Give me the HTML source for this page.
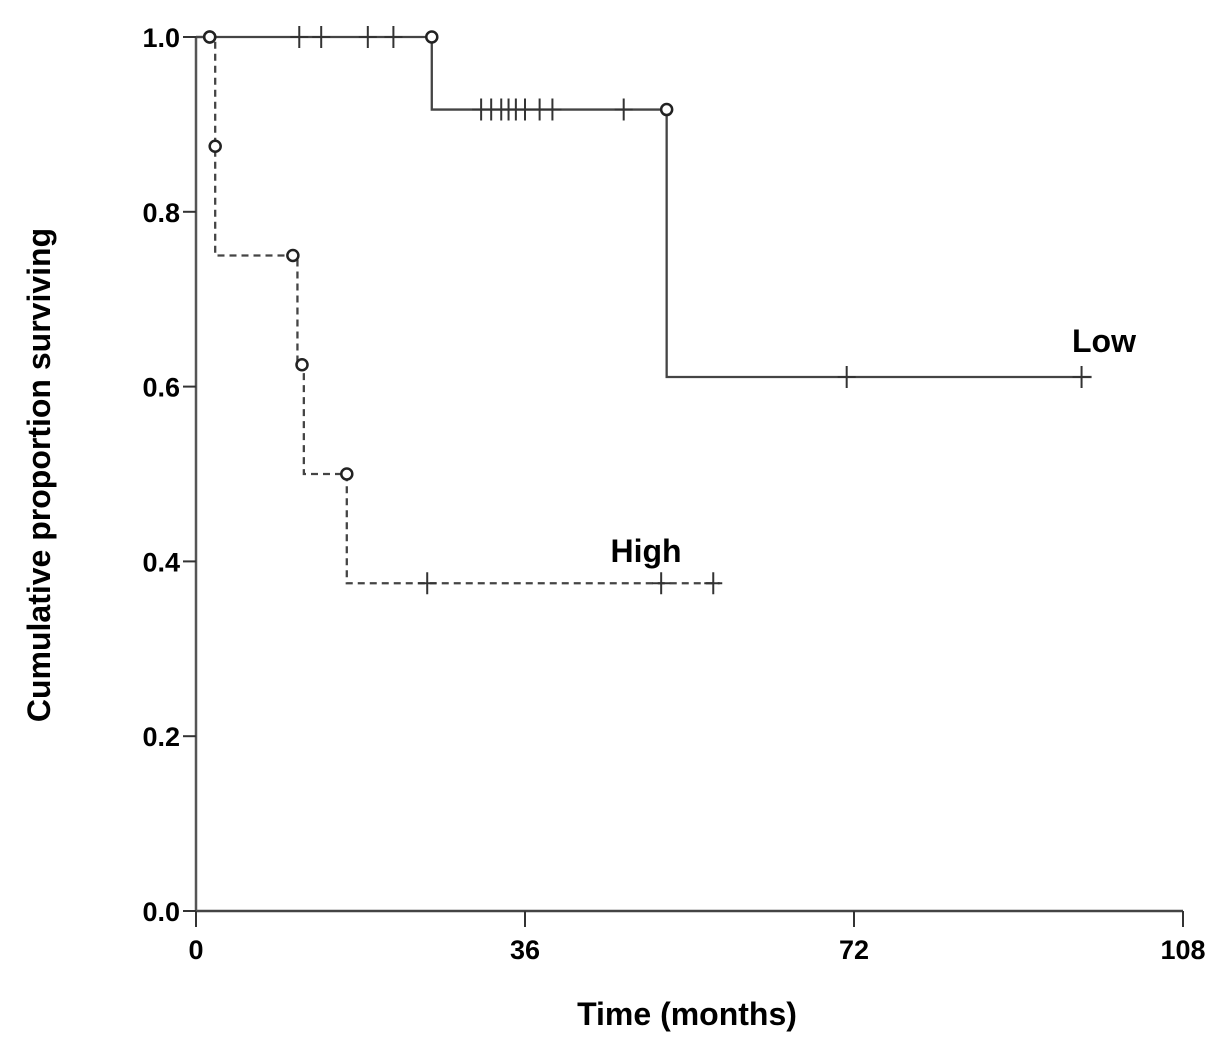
<!DOCTYPE html>
<html><head><meta charset="utf-8"><style>
html,body{margin:0;padding:0;background:#fff;}
svg{display:block;font-family:"Liberation Sans",Arial,sans-serif;}
</style></head><body>
<svg id="chart" width="1228" height="1055" viewBox="0 0 1228 1055">
<g id="axes"></g>
<g id="series"></g>
<text x="0" y="0" transform="translate(50,475) rotate(-90)" text-anchor="middle" font-size="32" font-weight="bold">Cumulative proportion surviving</text>
<text x="687" y="1025" text-anchor="middle" font-size="32" font-weight="bold">Time (months)</text>
<text x="1104" y="352" text-anchor="middle" font-size="32" font-weight="bold">Low</text>
<text x="646" y="562" text-anchor="middle" font-size="32" font-weight="bold">High</text>
</svg>
<script>
const xTicks=[0,36,72,108];
const yTicks=[0,0.2,0.4,0.6,0.8,1.0];
const lowTimes=[0,25.8,51.5,98];
const lowSurv=[1,0.917,0.611,0.611];
const lowEventTimes=[1.5,25.8,51.5];
const lowEventSurv=[1,1,0.917];
const lowCensorTimes=[11.3,13.7,18.8,21.6,31.2,32.3,33.4,34.2,35,36,37.6,39,46.8,71.2,96.9];
const highTimes=[0,2.1,11.1,11.8,16.5,57.3];
const highSurv=[1,0.75,0.625,0.5,0.375,0.375];
const highEventTimes=[1.5,2.1,10.6,11.6,16.5];
const highEventSurv=[1,0.875,0.75,0.625,0.5];
const highCensorTimes=[25.3,50.9,56.6];

const NS="http://www.w3.org/2000/svg";
const X=t=>196+t*(1183-196)/108;
const Y=v=>911-v*874;
function mk(tag,attrs,parent){const e=document.createElementNS(NS,tag);for(const k in attrs)e.setAttribute(k,attrs[k]);parent.appendChild(e);return e;}
const ax=document.getElementById('axes'), se=document.getElementById('series');
let l=mk('line',{x1:X(0),y1:Y(0),x2:X(108),y2:Y(0),stroke:'#444','stroke-width':2.5},ax);


l=mk('line',{x1:X(0),y1:Y(1),x2:X(0),y2:Y(0),stroke:'#555','stroke-width':2.5},ax);


xTicks.forEach(t=>{
 const tk=mk('line',{x1:X(t),y1:Y(0),x2:X(t),y2:Y(0)+16,stroke:'#333','stroke-width':2},ax);
 
 
 const tx=mk('text',{x:X(t),y:Y(0)+48,'text-anchor':'middle','font-size':27,'font-weight':'bold'},ax);tx.textContent=t;
 
 
});
yTicks.forEach(v=>{
 const tk=mk('line',{x1:X(0)-13,y1:Y(v),x2:X(0),y2:Y(v),stroke:'#333','stroke-width':2},ax);
 
 
 const tx=mk('text',{x:X(0)-16,y:Y(v)+10,'text-anchor':'end','font-size':27,'font-weight':'bold'},ax);tx.textContent=v.toFixed(1);
 
 
});
function stepPath(ts,ss){let d=`M${X(ts[0])},${Y(ss[0])}`;for(let i=1;i<ts.length;i++){d+=` H${X(ts[i])} V${Y(ss[i])}`;}return d;}
function survAt(ts,ss,t){let s=ss[0];for(let i=0;i<ts.length;i++){if(ts[i]<=t)s=ss[i];}return s;}
function drawSeries(name,ts,ss,et,es,ct,dash){
 const p=mk('path',{d:stepPath(ts,ss),fill:'none',stroke:'#444','stroke-width':2.3,'stroke-dasharray':dash||'none'},se);
 
 
 ct.forEach(t=>{const y=Y(survAt(ts,ss,t));
  const c=mk('path',{d:`M${X(t)-9},${y} H${X(t)+9} M${X(t)},${y-11} V${y+11}`,stroke:'#333','stroke-width':2},se);
  
  });
 et.forEach((t,i)=>{const c=mk('circle',{cx:X(t),cy:Y(es[i]),r:5.5,fill:'#fff',stroke:'#222','stroke-width':2.5},se);
  
  });
}
drawSeries('low',lowTimes,lowSurv,lowEventTimes,lowEventSurv,lowCensorTimes,null);
drawSeries('high',highTimes,highSurv,highEventTimes,highEventSurv,highCensorTimes,'7,5');
</script>
</body></html>
